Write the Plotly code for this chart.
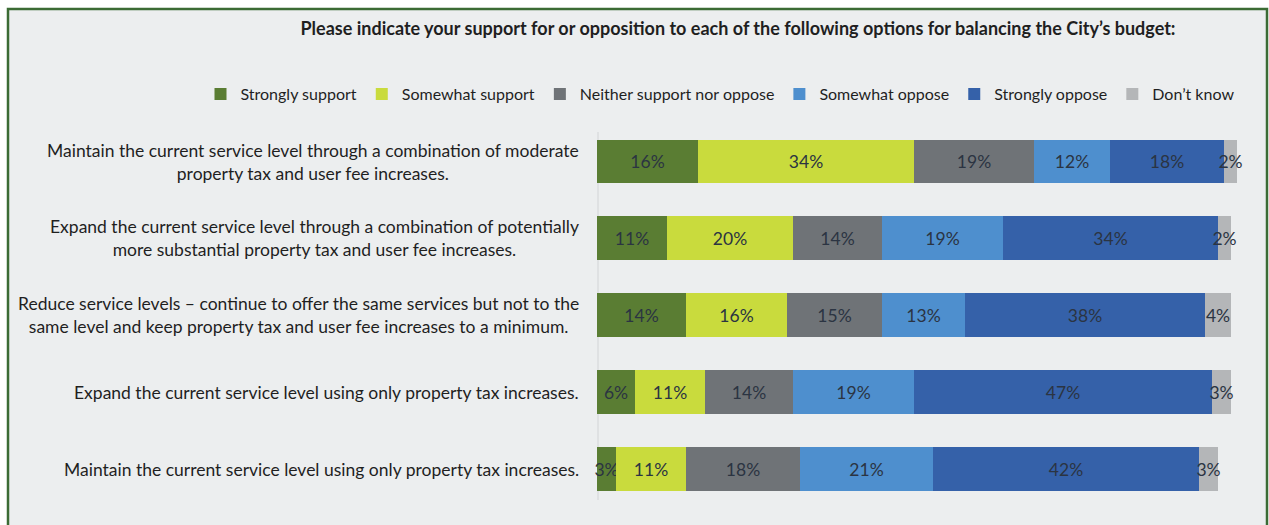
import plotly.graph_objects as go

# Survey options (top to bottom), with line breaks as they are displayed
options = [
    "Maintain the current service level through a combination of moderate<br>property tax and user fee increases.",
    "Expand the current service level through a combination of potentially<br>more substantial property tax and user fee increases.",
    "Reduce service levels – continue to offer the same services but not to the<br>same level and keep property tax and user fee increases to a minimum.",
    "Expand the current service level using only property tax increases.",
    "Maintain the current service level using only property tax increases.",
]

# Response shares (%) for each option, in the same order
strongly_support = [16, 11, 14, 6, 3]
somewhat_support = [34, 20, 16, 11, 11]
neither = [19, 14, 15, 14, 18]
somewhat_oppose = [12, 19, 13, 19, 21]
strongly_oppose = [18, 34, 38, 47, 42]
dont_know = [2, 2, 4, 3, 3]

series_names = [
    "Strongly support",
    "Somewhat support",
    "Neither support nor oppose",
    "Somewhat oppose",
    "Strongly oppose",
    "Don\u2019t know",
]
series_values = [strongly_support, somewhat_support, neither,
                 somewhat_oppose, strongly_oppose, dont_know]
series_colors = ["#5a7d33", "#c9db3d", "#6f7377", "#4e8fce", "#3561a9", "#b4b6b8"]

title_text = ("Please indicate your support for or opposition to each of the "
              "following options for balancing the City\u2019s budget:")

W, H = 1269, 525
FONT = "Lato, 'Open Sans', sans-serif"
TEXT_DARK = "#1f1f1f"
BG = "#eceeef"

fig = go.Figure()
for name, vals, color in zip(series_names, series_values, series_colors):
    fig.add_trace(go.Bar(
        name=name,
        y=options,
        x=vals,
        orientation="h",
        marker=dict(color=color, line=dict(width=0)),
        width=0.57,
        text=[f"{v}%" for v in vals],
        textposition="inside",
        insidetextanchor="middle",
        constraintext="none",
        textangle=0,
        textfont=dict(family=FONT, size=17.5, color="#2b3442"),
        cliponaxis=False,
        hovertemplate="%{x}%<extra>" + name + "</extra>",
    ))

# Option labels: centred lines, right edge just left of the bars
for opt in options:
    fig.add_annotation(
        x=581 / W, xref="paper", xanchor="right",
        y=opt, yref="y", yanchor="middle",
        text=opt, showarrow=False, align="center",
        font=dict(family=FONT, size=17.5, color=TEXT_DARK),
    )

fig.update_layout(
    width=W, height=H,
    margin=dict(l=0, r=0, t=0, b=0),
    paper_bgcolor="white",
    plot_bgcolor="rgba(0,0,0,0)",
    barmode="stack",
    bargap=0,
    showlegend=True,
    legend=dict(
        orientation="h",
        x=720 / W, xanchor="center",
        y=1 - 94 / H, yanchor="middle",
        font=dict(family=FONT, size=16, color=TEXT_DARK),
        bgcolor="rgba(0,0,0,0)",
        itemwidth=30,
        traceorder="normal",
    ),
    title=dict(
        text="<b>" + title_text + "</b>",
        x=738 / W, xanchor="center",
        y=1 - 29 / H, yanchor="middle",
        font=dict(family=FONT, size=18, color=TEXT_DARK),
    ),
    xaxis=dict(
        domain=[597 / W, 1237 / W],
        range=[0, 101],
        showticklabels=False, showgrid=False, zeroline=False,
        showline=False, ticks="",
    ),
    yaxis=dict(
        domain=[0, 1],
        type="category",
        categoryorder="array",
        categoryarray=options,
        range=[4.7285, -2.1008],
        showticklabels=False, showgrid=False, zeroline=False,
        showline=False, ticks="",
    ),
    shapes=[
        # panel background with its green frame
        dict(type="rect", xref="paper", yref="paper",
             x0=8 / W, x1=1267 / W, y0=-0.02, y1=1 - 9 / H,
             fillcolor=BG, line=dict(color="#3b6b34", width=2.5),
             layer="below"),
        # faint axis line at the base of the bars
        dict(type="line", xref="paper", yref="paper",
             x0=598 / W, x1=598 / W, y0=1 - 500 / H, y1=1 - 132 / H,
             line=dict(color="#d2d4d6", width=1), layer="below"),
    ],
)

fig.write_html("out.html")
